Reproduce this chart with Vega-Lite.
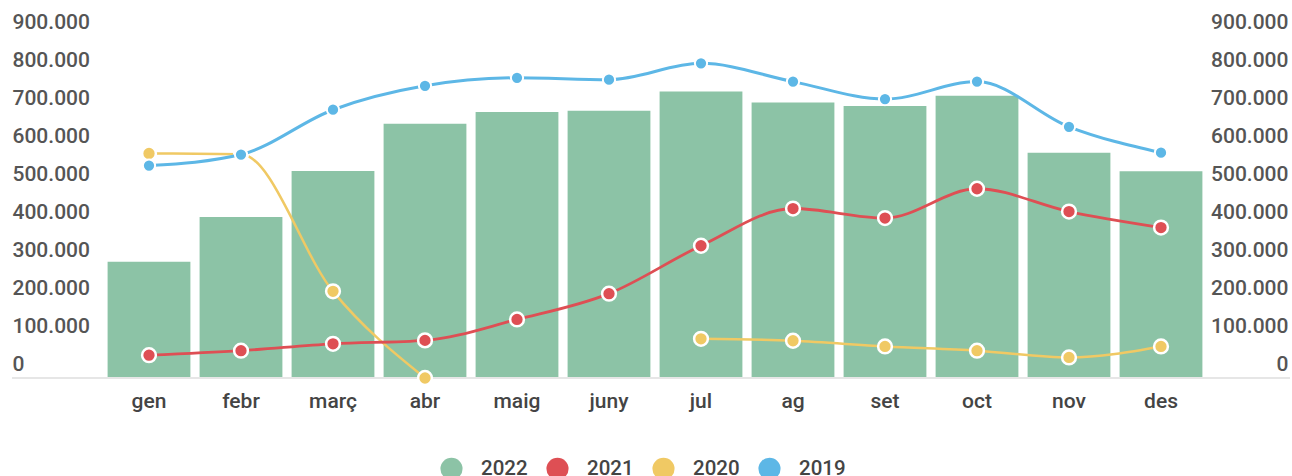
{
  "$schema": "https://vega.github.io/schema/vega-lite/v6.json",
  "autosize": "none",
  "width": 1278,
  "height": 342,
  "padding": {"left": 12, "top": 36, "right": 2, "bottom": 98},
  "background": "white",
  "config": {
    "view": {"stroke": null},
    "locale": {"number": {"decimal": ",", "thousands": ".", "grouping": [3], "currency": ["", " €"]}},
    "font": "Roboto"
  },
  "data": {
    "values": [
      {"month": "gen", "year": "2022", "value": 306000},
      {"month": "febr", "year": "2022", "value": 424000},
      {"month": "març", "year": "2022", "value": 545000},
      {"month": "abr", "year": "2022", "value": 669000},
      {"month": "maig", "year": "2022", "value": 700000},
      {"month": "juny", "year": "2022", "value": 703000},
      {"month": "jul", "year": "2022", "value": 754000},
      {"month": "ag", "year": "2022", "value": 725000},
      {"month": "set", "year": "2022", "value": 716000},
      {"month": "oct", "year": "2022", "value": 743000},
      {"month": "nov", "year": "2022", "value": 593000},
      {"month": "des", "year": "2022", "value": 544000},
      {"month": "gen", "year": "2020", "value": 591000},
      {"month": "febr", "year": "2020", "value": 589000},
      {"month": "març", "year": "2020", "value": 228000},
      {"month": "abr", "year": "2020", "value": 0},
      {"month": "maig", "year": "2020", "value": null},
      {"month": "juny", "year": "2020", "value": null},
      {"month": "jul", "year": "2020", "value": 103000},
      {"month": "ag", "year": "2020", "value": 98000},
      {"month": "set", "year": "2020", "value": 83000},
      {"month": "oct", "year": "2020", "value": 72000},
      {"month": "nov", "year": "2020", "value": 54000},
      {"month": "des", "year": "2020", "value": 83000},
      {"month": "gen", "year": "2021", "value": 60000},
      {"month": "febr", "year": "2021", "value": 72000},
      {"month": "març", "year": "2021", "value": 90000},
      {"month": "abr", "year": "2021", "value": 99000},
      {"month": "maig", "year": "2021", "value": 154000},
      {"month": "juny", "year": "2021", "value": 222000},
      {"month": "jul", "year": "2021", "value": 348000},
      {"month": "ag", "year": "2021", "value": 446000},
      {"month": "set", "year": "2021", "value": 421000},
      {"month": "oct", "year": "2021", "value": 498000},
      {"month": "nov", "year": "2021", "value": 438000},
      {"month": "des", "year": "2021", "value": 396000},
      {"month": "gen", "year": "2019", "value": 559000},
      {"month": "febr", "year": "2019", "value": 588000},
      {"month": "març", "year": "2019", "value": 706000},
      {"month": "abr", "year": "2019", "value": 769000},
      {"month": "maig", "year": "2019", "value": 790000},
      {"month": "juny", "year": "2019", "value": 785000},
      {"month": "jul", "year": "2019", "value": 828000},
      {"month": "ag", "year": "2019", "value": 780000},
      {"month": "set", "year": "2019", "value": 734000},
      {"month": "oct", "year": "2019", "value": 780000},
      {"month": "nov", "year": "2019", "value": 661000},
      {"month": "des", "year": "2019", "value": 593000}
    ]
  },
  "encoding": {
    "x": {
      "field": "month",
      "type": "ordinal",
      "sort": ["gen", "febr", "març", "abr", "maig", "juny", "jul", "ag", "set", "oct", "nov", "des"],
      "scale": {"range": [91, 1195], "paddingInner": 0.1, "paddingOuter": 0.05},
      "axis": {
        "title": null,
        "domain": false,
        "ticks": false,
        "tickSize": 0,
        "labelPadding": 12,
        "labelAngle": 0,
        "labelFontSize": 21,
        "labelFontWeight": 500,
        "labelColor": "#444444",
        "labelFont": "Roboto"
      }
    },
    "y": {
      "field": "value",
      "type": "quantitative",
      "scale": {"domain": [0, 900000], "nice": false},
      "axis": null
    },
    "color": {
      "field": "year",
      "type": "nominal",
      "scale": {
        "domain": ["2022", "2021", "2020", "2019"],
        "range": ["#8cc3a6", "#de4f54", "#f0c964", "#5db7e6"]
      },
      "legend": null
    }
  },
  "layer": [
    {
      "transform": [{"filter": "datum.year == '2022'"}],
      "mark": {"type": "bar"},
      "encoding": {
        "y": {
          "field": "value",
          "type": "quantitative",
          "axis": {
            "orient": "left",
            "title": null,
            "grid": false,
            "domain": false,
            "ticks": false,
            "tickSize": 0,
            "labelPadding": 0,
            "labelAlign": "left",
            "labelBaseline": "middle",
            "labelOffset": -13.5,
            "labelFontSize": 21,
            "labelFontWeight": 500,
            "labelColor": "#555555",
            "labelFont": "Roboto",
            "values": [0, 100000, 200000, 300000, 400000, 500000, 600000, 700000, 800000, 900000],
            "format": ",d"
          }
        },
        "color": {
          "field": "year",
          "type": "nominal",
          "legend": {
            "orient": "none",
            "legendX": 428,
            "legendY": 421,
            "direction": "horizontal",
            "title": null,
            "symbolType": "circle",
            "symbolSize": 490,
            "symbolStrokeWidth": 0,
            "labelFontSize": 20.5,
            "labelFontWeight": 500,
            "labelColor": "#444444",
            "labelFont": "Roboto",
            "labelOffset": 18,
            "columnPadding": 18
          }
        }
      }
    },
    {
      "mark": {"type": "rule", "color": "#e6e6e6", "strokeWidth": 2},
      "encoding": {"y": {"datum": 0}, "x": null, "color": null}
    },
    {
      "transform": [{"filter": "datum.year == '2020'"}],
      "mark": {"type": "line", "interpolate": "monotone", "strokeWidth": 2.5, "invalid": "break-paths-show-domains"},
      "encoding": {
        "y": {
          "field": "value",
          "type": "quantitative",
          "axis": {
            "orient": "right",
            "title": null,
            "grid": false,
            "domain": false,
            "ticks": false,
            "tickSize": 0,
            "labelPadding": -2,
            "labelAlign": "right",
            "labelBaseline": "middle",
            "labelOffset": -13.5,
            "labelFontSize": 21,
            "labelFontWeight": 500,
            "labelColor": "#555555",
            "labelFont": "Roboto",
            "values": [0, 100000, 200000, 300000, 400000, 500000, 600000, 700000, 800000, 900000],
            "format": ",d"
          }
        }
      }
    },
    {
      "transform": [{"filter": "datum.year == '2020' && datum.value != null"}],
      "mark": {"type": "point", "filled": true, "size": 190, "opacity": 1, "stroke": "white", "strokeWidth": 2.5},
      "encoding": {
        "fill": {"field": "year", "type": "nominal", "scale": {"domain": ["2022", "2021", "2020", "2019"], "range": ["#8cc3a6", "#de4f54", "#f0c964", "#5db7e6"]}, "legend": null},
        "color": {"value": "white"}
      }
    },
    {
      "transform": [{"filter": "datum.year == '2021'"}],
      "mark": {"type": "line", "interpolate": "monotone", "strokeWidth": 2.8}
    },
    {
      "transform": [{"filter": "datum.year == '2021'"}],
      "mark": {"type": "point", "filled": true, "size": 190, "opacity": 1, "stroke": "white", "strokeWidth": 2.5},
      "encoding": {
        "fill": {"field": "year", "type": "nominal", "scale": {"domain": ["2022", "2021", "2020", "2019"], "range": ["#8cc3a6", "#de4f54", "#f0c964", "#5db7e6"]}, "legend": null},
        "color": {"value": "white"}
      }
    },
    {
      "transform": [{"filter": "datum.year == '2019'"}],
      "mark": {"type": "line", "interpolate": "monotone", "strokeWidth": 3}
    },
    {
      "transform": [{"filter": "datum.year == '2019'"}],
      "mark": {"type": "point", "filled": true, "size": 150, "opacity": 1, "stroke": "white", "strokeWidth": 2},
      "encoding": {
        "fill": {"field": "year", "type": "nominal", "scale": {"domain": ["2022", "2021", "2020", "2019"], "range": ["#8cc3a6", "#de4f54", "#f0c964", "#5db7e6"]}, "legend": null},
        "color": {"value": "white"}
      }
    }
  ],
  "resolve": {"axis": {"y": "independent"}}
}
